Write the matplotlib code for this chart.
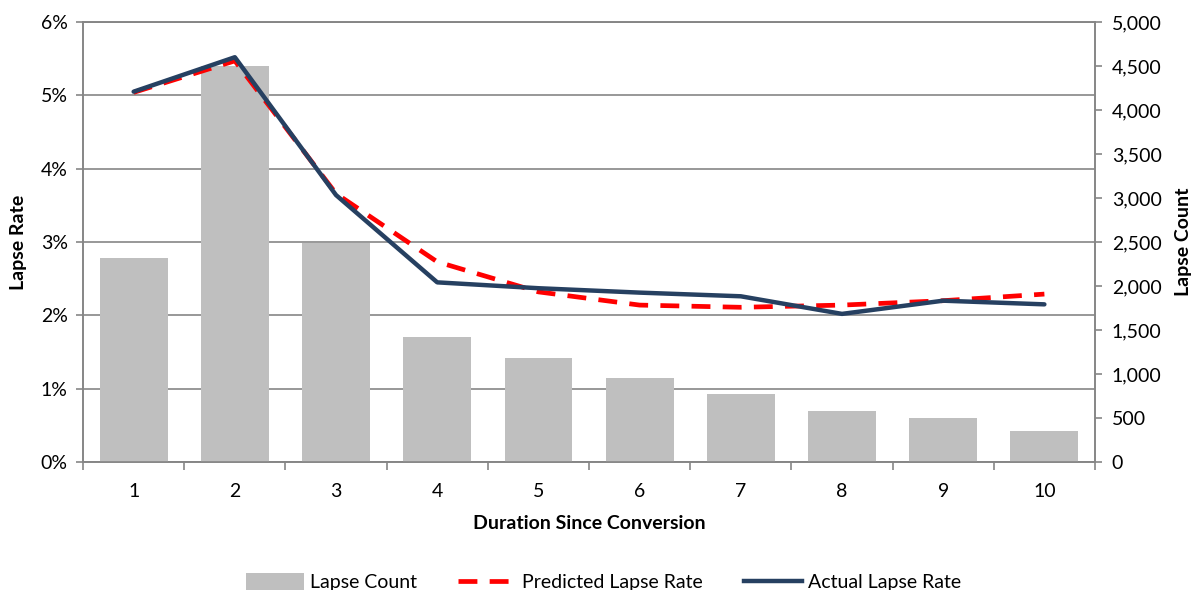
import matplotlib
matplotlib.use("Agg")
import matplotlib.pyplot as plt
from matplotlib.lines import Line2D
from matplotlib.patches import Patch
from matplotlib.ticker import FuncFormatter, FixedLocator

plt.rcParams['font.family'] = ['Lato', 'DejaVu Sans']

durations = [1, 2, 3, 4, 5, 6, 7, 8, 9, 10]
lapse_count = [2320, 4500, 2490, 1420, 1180, 955, 775, 575, 500, 355]
predicted_rate = [0.0504, 0.0547, 0.0366, 0.0273, 0.0232, 0.0214, 0.0211, 0.0214, 0.0220, 0.0229]
actual_rate = [0.0505, 0.0552, 0.0364, 0.0245, 0.0237, 0.0231, 0.0226, 0.0202, 0.0220, 0.0215]

GRID = '#868686'
BAR = '#BFBFBF'
NAVY = '#264061'
RED = '#FF0000'
FS = 14

fig = plt.figure(figsize=(11.95, 5.9), dpi=100)
ax = fig.add_axes([0.0695, 0.2169, 0.9163 - 0.0695, 0.9627 - 0.2169])

# rate axis: left ticks + gridlines
ax.set_xlim(0.5, 10.5)
ax.set_ylim(0, 0.06)
ax.set_yticks([0, 0.01, 0.02, 0.03, 0.04, 0.05, 0.06])
ax.yaxis.set_major_formatter(FuncFormatter(lambda v, p: f"{v*100:.0f}%"))
ax.grid(axis='y', color=GRID, linewidth=1.2)
ax.set_axisbelow(True)
ax.xaxis.set_major_locator(FixedLocator([i + 0.5 for i in range(0, 11)]))
ax.xaxis.set_minor_locator(FixedLocator(durations))
ax.xaxis.set_major_formatter(FuncFormatter(lambda v, p: ""))
ax.xaxis.set_minor_formatter(FuncFormatter(lambda v, p: f"{int(round(v))}"))
ax.tick_params(axis='x', which='major', direction='out', length=6, color=GRID, width=1.2)
ax.tick_params(axis='x', which='minor', length=0, pad=15, labelsize=FS)
ax.tick_params(axis='y', direction='out', length=5, color=GRID, width=1.2, labelsize=FS, pad=6)
for s in ax.spines.values():
    s.set_color(GRID)
    s.set_linewidth(1.2)
ax.set_ylabel("Lapse Rate", fontsize=FS, fontweight='bold', labelpad=10)
ax.set_xlabel("Duration Since Conversion", fontsize=FS, fontweight='bold', labelpad=11)

# count axis: bars on the right scale
axb = ax.twinx()
axb.bar(durations, lapse_count, width=0.67, color=BAR, zorder=2)
axb.set_ylim(0, 5000)
axb.set_yticks(range(0, 5001, 500))
axb.yaxis.set_major_formatter(FuncFormatter(lambda v, p: f"{int(v):,}"))
axb.tick_params(axis='y', direction='out', length=5, color=GRID, width=1.2, labelsize=FS, pad=7)
for s in axb.spines.values():
    s.set_color(GRID)
    s.set_linewidth(1.2)
axb.set_ylabel("Lapse Count", fontsize=FS, fontweight='bold', labelpad=10)

# lines drawn above the bars on the rate scale
axl = ax.twinx()
axl.set_ylim(0, 0.06)
axl.set_yticks([])
for s in axl.spines.values():
    s.set_visible(False)
pl, = axl.plot(durations, predicted_rate, color=RED, linewidth=3.4, dash_capstyle='butt')
pl.set_dashes([4.0, 2.6])
al, = axl.plot(durations, actual_rate, color=NAVY, linewidth=3.2, solid_capstyle='round')

handles = [
    Patch(facecolor=BAR, edgecolor='none'),
    Line2D([], [], color=RED, linewidth=3.4, dashes=[4.0, 2.6]),
    Line2D([], [], color=NAVY, linewidth=3.2),
]
fig.legend(handles, ["Lapse Count", "Predicted Lapse Rate", "Actual Lapse Rate"],
           loc='center', bbox_to_anchor=(0.505, 0.013), ncol=3, frameon=False,
           fontsize=FS, handlelength=3.0, handleheight=0.9, handletextpad=0.3,
           columnspacing=2.1)

fig.savefig("out.png", dpi=100)
